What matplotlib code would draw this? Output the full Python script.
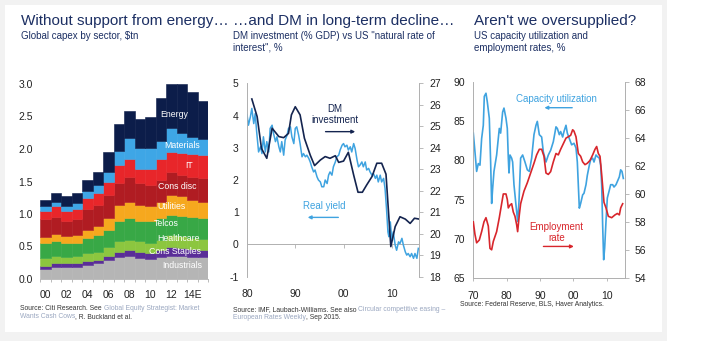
import matplotlib
matplotlib.use("Agg")
import matplotlib.pyplot as plt
import numpy as np
from matplotlib.patches import Rectangle

plt.rcParams["font.family"] = ["Liberation Sans", "DejaVu Sans"]
plt.rcParams["axes.unicode_minus"] = False

NAVY = "#14244f"
TITLE = "#1c2f63"
LBLUE = "#3fa3e0"
RED = "#d8262c"
TICK = "#222222"
SPINE = "#b0b0b0"
SRC = "#333333"
LINK = "#9aa7c0"

# ---------------------------------------------------------------------------
# Panel 1: global capex by sector, $tn (2000-2015E)
# ---------------------------------------------------------------------------
years_capex = ["00", "01", "02", "03", "04", "05", "06", "07",
               "08", "09", "10", "11", "12", "13", "14", "15E"]
capex_tick_labels = ["00", "02", "04", "06", "08", "10", "12", "14E"]
industrials = [0.15, 0.18, 0.18, 0.19, 0.22, 0.24, 0.30, 0.34, 0.36, 0.32, 0.31, 0.34, 0.36, 0.35, 0.34, 0.34]
cons_staples = [0.05, 0.06, 0.06, 0.06, 0.05, 0.06, 0.05, 0.08, 0.09, 0.09, 0.09, 0.10, 0.14, 0.13, 0.12, 0.11]
healthcare = [0.12, 0.11, 0.10, 0.10, 0.13, 0.12, 0.15, 0.16, 0.15, 0.17, 0.16, 0.16, 0.17, 0.18, 0.17, 0.16]
telcos = [0.24, 0.24, 0.21, 0.21, 0.23, 0.25, 0.26, 0.32, 0.34, 0.32, 0.33, 0.34, 0.32, 0.31, 0.32, 0.33]
utilities = [0.09, 0.11, 0.11, 0.11, 0.13, 0.14, 0.18, 0.24, 0.24, 0.24, 0.23, 0.25, 0.31, 0.30, 0.27, 0.24]
cons_disc = [0.27, 0.26, 0.24, 0.26, 0.32, 0.33, 0.36, 0.34, 0.39, 0.33, 0.33, 0.34, 0.35, 0.33, 0.35, 0.37]
it = [0.13, 0.16, 0.14, 0.15, 0.16, 0.18, 0.20, 0.28, 0.27, 0.23, 0.25, 0.31, 0.31, 0.34, 0.35, 0.36]
materials = [0.08, 0.07, 0.09, 0.09, 0.11, 0.13, 0.15, 0.21, 0.33, 0.31, 0.31, 0.29, 0.36, 0.31, 0.27, 0.25]
energy = [0.08, 0.13, 0.14, 0.15, 0.18, 0.19, 0.31, 0.42, 0.42, 0.45, 0.49, 0.65, 0.68, 0.75, 0.68, 0.58]

sectors = [
    ("Industrials", industrials, "#b5b5b5", (13.0, 0.20)),
    ("Cons Staples", cons_staples, "#5a2e98", (12.4, 0.42)),
    ("Healthcare", healthcare, "#8cc63f", (12.7, 0.63)),
    ("Telcos", telcos, "#38a846", (11.5, 0.85)),
    ("Utilities", utilities, "#f6a81e", (12.0, 1.11)),
    ("Cons disc", cons_disc, "#b01c22", (12.6, 1.43)),
    ("IT", it, "#e8262a", (13.7, 1.74)),
    ("Materials", materials, "#3ea6e6", (13.0, 2.05)),
    ("Energy", energy, "#0c1d4a", (12.3, 2.53)),
]

# ---------------------------------------------------------------------------
# Panel 2: DM investment (% GDP, rhs) vs US natural rate of interest (lhs)
# ---------------------------------------------------------------------------
ry_years = [1980.0, 1980.3, 1980.7, 1981.0, 1981.4, 1981.7, 1982.0, 1982.4, 1982.8, 1983.1,
            1983.4, 1983.8, 1984.1, 1984.5, 1984.8, 1985.2, 1985.5, 1985.9, 1986.2, 1986.6,
            1986.9, 1987.2, 1987.6, 1987.9, 1988.3, 1988.6, 1989.0, 1989.3, 1989.7, 1990.0,
            1990.3, 1990.7, 1991.0, 1991.4, 1991.7, 1992.1, 1992.4, 1992.8, 1993.1, 1993.4,
            1993.8, 1994.1, 1994.5, 1994.8, 1995.2, 1995.5, 1995.9, 1996.2, 1996.6, 1996.9,
            1997.2, 1997.6, 1997.9, 1998.3, 1998.6, 1999.0, 1999.3, 1999.7, 2000.0, 2000.3,
            2000.7, 2001.0, 2001.4, 2001.7, 2002.1, 2002.4, 2002.8, 2003.1, 2003.4, 2003.8,
            2004.1, 2004.5, 2004.8, 2005.2, 2005.5, 2005.9, 2006.2, 2006.6, 2006.9, 2007.2,
            2007.6, 2007.9, 2008.3, 2008.6, 2008.9, 2009.2, 2009.4, 2009.7, 2010.0, 2010.3,
            2010.7, 2011.0, 2011.4, 2011.7, 2012.1, 2012.4, 2012.8, 2013.1, 2013.4, 2013.8,
            2014.1, 2014.5, 2014.8, 2015.2, 2015.5]
real_yield = [4.03, 3.70, 3.96, 4.22, 3.75, 4.06, 3.50, 2.87, 3.03, 2.82,
              3.34, 2.87, 3.19, 2.87, 3.60, 3.70, 3.44, 3.19, 3.34, 3.03,
              2.87, 3.19, 2.77, 3.24, 3.39, 3.60, 3.65, 3.34, 3.13, 3.60,
              3.65, 3.39, 3.13, 2.72, 2.82, 2.72, 2.77, 2.67, 2.56, 2.41,
              2.25, 2.31, 2.10, 2.00, 1.94, 1.79, 1.79, 2.00, 1.89, 2.15,
              2.25, 2.15, 2.41, 2.56, 2.72, 2.77, 2.93, 3.08, 3.13, 3.03,
              3.08, 2.93, 3.03, 2.87, 3.13, 2.98, 2.62, 2.41, 2.46, 2.56,
              2.41, 2.56, 2.31, 2.36, 2.25, 2.15, 2.20, 2.05, 2.15, 1.94,
              2.15, 1.94, 2.05, 1.74, 1.12, 0.39, 0.24, 0.70, 0.13, 0.39,
              -0.02, -0.18, 0.08, 0.03, 0.19, -0.02, -0.23, -0.33, -0.28, -0.38,
              -0.28, -0.43, -0.28, -0.43, -0.12]

dm_years = [1981.0, 1982.1, 1983.0, 1984.1, 1985.2, 1986.6, 1987.6, 1988.6, 1989.2, 1990.0,
            1991.0, 1991.9, 1993.1, 1994.0, 1995.2, 1996.2, 1997.2, 1998.3, 1999.0, 2000.0,
            2001.0, 2002.1, 2003.0, 2003.9, 2004.8, 2005.9, 2006.9, 2007.9, 2008.8, 2009.8,
            2010.7, 2011.7, 2012.8, 2013.8, 2014.7, 2015.7]
dm_invest = [26.27, 25.45, 23.97, 23.51, 24.91, 24.52, 24.47, 24.67, 25.53, 25.91,
             25.53, 24.44, 23.66, 23.17, 23.43, 23.59, 23.51, 23.63, 23.32, 23.38,
             23.79, 22.73, 21.93, 21.93, 22.27, 22.66, 23.28, 23.28, 22.77, 19.40,
             20.33, 20.79, 20.68, 20.48, 20.72, 20.68]

# ---------------------------------------------------------------------------
# Panel 3: US capacity utilization (lhs) and employment rate (rhs), %
# ---------------------------------------------------------------------------
cu_years = [1970.0, 1970.5, 1971.0, 1971.5, 1972.0, 1972.5, 1973.0, 1973.3, 1973.8, 1974.2,
            1974.8, 1975.2, 1975.5, 1975.8, 1976.2, 1977.0, 1977.8, 1978.2, 1978.8, 1979.2,
            1979.8, 1980.2, 1980.5, 1980.7, 1981.0, 1981.5, 1981.8, 1982.2, 1982.8, 1983.3,
            1983.7, 1984.2, 1984.8, 1985.5, 1986.2, 1986.8, 1987.5, 1988.2, 1988.8, 1989.2,
            1989.8, 1990.5, 1991.0, 1991.8, 1992.5, 1993.2, 1994.0, 1994.8, 1995.2, 1995.8,
            1996.2, 1996.8, 1997.2, 1997.8, 1998.2, 1998.8, 1999.5, 2000.2, 2000.8, 2001.2,
            2001.8, 2002.2, 2002.8, 2003.2, 2003.8, 2004.2, 2004.8, 2005.2, 2005.8, 2006.2,
            2006.8, 2007.2, 2007.8, 2008.2, 2008.5, 2008.8, 2009.1, 2009.4, 2009.8, 2010.2,
            2010.8, 2011.2, 2011.8, 2012.2, 2012.8, 2013.2, 2013.8, 2014.2, 2014.6, 2015.0]
cap_util = [83.5, 81.1, 78.6, 79.6, 79.4, 82.8, 84.5, 88.2, 88.6, 87.5,
            85.4, 79.8, 74.5, 76.4, 78.6, 80.7, 84.1, 83.5, 86.2, 86.7,
            85.4, 84.1, 80.3, 78.4, 80.7, 80.3, 79.8, 76.9, 74.3, 72.2,
            74.7, 80.3, 80.7, 79.8, 78.8, 78.6, 80.3, 83.3, 84.5, 85.0,
            83.3, 83.0, 81.1, 79.8, 80.7, 81.3, 82.4, 84.3, 84.1, 83.3,
            83.7, 83.0, 83.7, 84.5, 83.5, 82.8, 82.0, 82.2, 81.6, 79.8,
            73.9, 74.5, 75.6, 75.8, 76.9, 78.1, 79.4, 80.1, 80.3, 79.8,
            80.7, 80.5, 80.3, 79.4, 76.9, 71.7, 67.3, 68.8, 72.2, 75.2,
            76.2, 76.9, 76.9, 76.6, 76.9, 77.3, 77.9, 78.8, 78.6, 77.7]

emp_years = [1970.0, 1970.5, 1971.0, 1971.8, 1972.5, 1973.2, 1973.8, 1974.5, 1975.0, 1975.5,
             1976.0, 1977.0, 1977.8, 1978.5, 1979.0, 1979.8, 1980.2, 1980.5, 1981.0, 1981.5,
             1982.0, 1982.5, 1983.0, 1983.3, 1983.8, 1984.2, 1985.2, 1986.2, 1987.2, 1988.2,
             1989.0, 1989.8, 1990.5, 1991.2, 1991.8, 1992.5, 1993.2, 1994.0, 1994.8, 1995.5,
             1996.2, 1997.0, 1997.8, 1998.5, 1999.2, 1999.8, 2000.2, 2000.8, 2001.5, 2002.2,
             2002.8, 2003.5, 2004.2, 2005.0, 2005.8, 2006.5, 2007.0, 2007.5, 2008.0, 2008.5,
             2009.2, 2009.8, 2010.5, 2011.5, 2012.5, 2013.2, 2013.8, 2014.2, 2014.8]
emp_rate = [58.0, 57.1, 56.5, 56.7, 57.3, 58.0, 58.3, 57.7, 56.1, 56.0,
            56.6, 57.3, 58.3, 59.3, 60.0, 60.0, 59.6, 59.0, 59.2, 59.3,
            58.7, 58.4, 57.8, 57.3, 58.5, 59.3, 60.2, 60.8, 61.5, 62.2,
            62.8, 63.2, 63.2, 62.7, 61.5, 61.4, 61.6, 62.3, 62.9, 62.8,
            63.2, 63.6, 64.0, 64.1, 64.2, 64.6, 64.5, 64.1, 62.9, 62.7,
            62.3, 62.1, 62.2, 62.4, 62.8, 63.2, 63.4, 62.9, 62.7, 61.4,
            59.4, 59.0, 58.4, 58.3, 58.5, 58.6, 58.5, 59.0, 59.3]

W, H = 716, 341


def fx(px):
    return px / W


def fy(py):
    return 1 - py / H


fig = plt.figure(figsize=(W / 100, H / 100), dpi=100)
fig.patch.set_facecolor("white")
fig.add_artist(Rectangle((0, 0), fx(667), 1, transform=fig.transFigure,
                         facecolor="#f2f2f2", edgecolor="none", zorder=-10))
fig.add_artist(Rectangle((fx(5), fy(332)), fx(662) - fx(5), fy(5) - fy(332),
                         transform=fig.transFigure, facecolor="white",
                         edgecolor="none", zorder=-9))

ax_over = fig.add_axes([0, 0, 1, 1])
ax_over.set_axis_off()


def heading(x, title, subtitle):
    fig.text(fx(x), fy(14), title, fontsize=11, color=TITLE, ha="left", va="top")
    fig.text(fx(x), fy(31), subtitle, fontsize=7, color=TITLE, ha="left",
             va="top", linespacing=1.2)


def src_line(x, y, pieces):
    # source notes: plain text pieces followed by greyed link pieces on one line
    t = None
    for txt, link in pieces:
        kw = dict(fontsize=4.9, color=LINK if link else SRC, va="bottom", ha="left")
        if t is None:
            t = fig.text(fx(x), fy(y), txt, **kw)
        else:
            t = ax_over.annotate(txt, xy=(1, 0), xycoords=t, xytext=(0, 0),
                                 textcoords="offset points", **kw)


# ---- Panel 1 --------------------------------------------------------------
ax1 = fig.add_axes([fx(40), fy(279), fx(208) - fx(40), fy(84) - fy(279)])
x = np.arange(len(years_capex))
bottom = np.zeros(len(years_capex))
for name, vals, col, pos in sectors:
    ax1.bar(x, vals, width=1.0, bottom=bottom, color=col, edgecolor=col,
            linewidth=0.4, zorder=2)
    bottom += np.array(vals)
    ax1.text(pos[0], pos[1], name, color="white", fontsize=6.3, ha="center",
             va="center", zorder=3)
ax1.set_xlim(-0.5, len(years_capex) - 0.5)
ax1.set_ylim(0, 3.0)
ax1.set_yticks([0, 0.5, 1.0, 1.5, 2.0, 2.5, 3.0])
ax1.set_yticklabels([f"{v:.1f}" for v in [0, 0.5, 1.0, 1.5, 2.0, 2.5, 3.0]])
ax1.set_xticks(x[::2])
ax1.set_xticklabels(capex_tick_labels)
ax1.set_xticks(np.arange(-0.5, len(years_capex)), minor=True)
ax1.tick_params(axis="x", which="major", length=0, pad=8, labelsize=7.5, colors=TICK)
ax1.tick_params(axis="x", which="minor", length=2.5, color=SPINE, width=0.6)
ax1.tick_params(axis="y", length=0, pad=5, labelsize=7.5, colors=TICK)
for s in ["top", "right", "left"]:
    ax1.spines[s].set_visible(False)
ax1.spines["bottom"].set_color(SPINE)
ax1.spines["bottom"].set_linewidth(0.6)

heading(21, "Without support from energy…", "Global capex by sector, $tn")
src_line(20, 312, [("Source: Citi Research. See ", False), ("Global Equity Strategist: Market", True)])
src_line(20, 320, [("Wants Cash Cows", True), (", R. Buckland et al.", False)])

# ---- Panel 2 --------------------------------------------------------------
ax2 = fig.add_axes([fx(247), fy(276.7), fx(419.3) - fx(247), fy(83.3) - fy(276.7)])
ax2b = ax2.twinx()
ax2.plot(ry_years, real_yield, color=LBLUE, lw=1.1, zorder=3)
ax2b.plot(dm_years, dm_invest, color=NAVY, lw=1.2, zorder=4)
ax2.set_xlim(1980, 2015.7)
ax2.set_ylim(-1, 5)
ax2b.set_ylim(18, 27)
ax2.set_yticks(range(-1, 6))
ax2b.set_yticks(range(18, 28))
ax2.axhline(0, color=SPINE, lw=0.7, zorder=1)
ax2.set_xticks([1980, 1990, 2000, 2010])
ax2.set_xticklabels(["80", "90", "00", "10"])
ax2.tick_params(axis="x", length=0, pad=9, labelsize=7.5, colors=TICK)
ax2.tick_params(axis="y", length=0, pad=6, labelsize=7.5, colors=TICK)
ax2b.tick_params(axis="y", length=3, width=0.6, color=SPINE, pad=4, labelsize=7.5,
                 labelcolor=TICK)
zero_ax = ax2.secondary_xaxis(1 / 6)
zero_ax.set_xticks([1990, 2000, 2010])
zero_ax.tick_params(length=3, width=0.6, color=SPINE, labelbottom=False)
zero_ax.spines["bottom"].set_visible(False)
for a in (ax2, ax2b):
    a.spines["top"].set_visible(False)
    a.spines["bottom"].set_visible(False)
    a.spines["left"].set_color(SPINE)
    a.spines["right"].set_color(SPINE)
    a.spines["left"].set_linewidth(0.6)
    a.spines["right"].set_linewidth(0.6)

ax2.text(1998.2, 4.02, "DM\ninvestment", color=NAVY, fontsize=7, ha="center",
         va="center", linespacing=1.1)
ax2.annotate("", xy=(2003.0, 3.50), xytext=(1995.7, 3.50),
             arrowprops=dict(arrowstyle="-|>", color=NAVY, lw=1.0, mutation_scale=5))
ax2.text(1996.0, 1.19, "Real yield", color=LBLUE, fontsize=7, ha="center", va="center")
ax2.annotate("", xy=(1992.0, 0.84), xytext=(1999.5, 0.84),
             arrowprops=dict(arrowstyle="-|>", color=LBLUE, lw=1.0, mutation_scale=5))

heading(233, "…and DM in long-term decline…",
        "DM investment (% GDP) vs US \"natural rate of\ninterest\", %")
src_line(233, 313, [("Source: IMF, Laubach-Williams. See also ", False),
                    ("Circular competitive easing –", True)])
src_line(233, 321, [("European Rates Weekly", True), (", Sep 2015.", False)])

# ---- Panel 3 --------------------------------------------------------------
ax3 = fig.add_axes([fx(473.3), fy(277.7), fx(625) - fx(473.3), fy(82.3) - fy(277.7)])
ax3b = ax3.twinx()
ax3.plot(cu_years, cap_util, color=LBLUE, lw=1.2, zorder=3)
ax3b.plot(emp_years, emp_rate, color=RED, lw=1.2, zorder=4)
ax3.set_xlim(1970, 2015.5)
ax3.set_ylim(65, 90)
ax3b.set_ylim(54, 68)
ax3.set_yticks(range(65, 91, 5))
ax3b.set_yticks(range(54, 69, 2))
ax3.set_xticks([1970, 1980, 1990, 2000, 2010])
ax3.set_xticklabels(["70", "80", "90", "00", "10"])
ax3.tick_params(axis="x", length=2.5, width=0.6, color=SPINE, pad=7, labelsize=7.5,
                labelcolor=TICK)
ax3.tick_params(axis="y", length=0, pad=6, labelsize=7.5, colors=TICK)
ax3b.tick_params(axis="y", length=3, width=0.6, color=SPINE, pad=4, labelsize=7.5,
                 labelcolor=TICK)
for a in (ax3, ax3b):
    a.spines["top"].set_visible(False)
    for s in ("left", "right", "bottom"):
        a.spines[s].set_color(SPINE)
        a.spines[s].set_linewidth(0.6)

ax3.text(1994.8, 87.86, "Capacity utilization", color=LBLUE, fontsize=7,
         ha="center", va="center")
ax3.annotate("", xy=(1990.5, 86.75), xytext=(2000.5, 86.75),
             arrowprops=dict(arrowstyle="-|>", color=LBLUE, lw=1.0, mutation_scale=5))
ax3.text(1995.0, 70.8, "Employment\nrate", color=RED, fontsize=7, ha="center",
         va="center", linespacing=1.1)
ax3.annotate("", xy=(2001.0, 69.0), xytext=(1990.2, 69.0),
             arrowprops=dict(arrowstyle="-|>", color=RED, lw=1.0, mutation_scale=5))

heading(474, "Aren't we oversupplied?", "US capacity utilization and\nemployment rates, %")
src_line(460, 308, [("Source: Federal Reserve, BLS, Haver Analytics.", False)])

fig.savefig("out.png", dpi=100, facecolor=fig.get_facecolor())
